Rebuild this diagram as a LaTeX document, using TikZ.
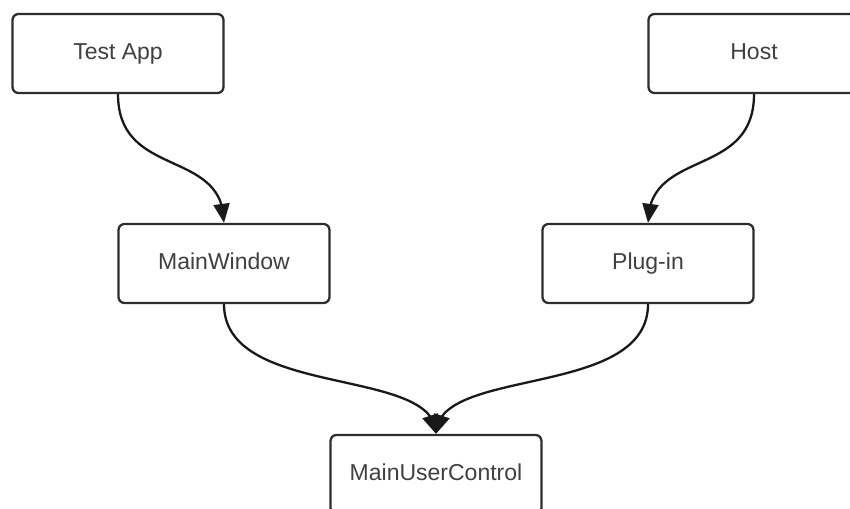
\documentclass[tikz,border=0pt]{standalone}
\usepackage{fontspec}
\setmainfont{Liberation Sans}
\usetikzlibrary{arrows.meta,bending}
\begin{document}
\begin{tikzpicture}[x=1pt,y=-1pt,
  block/.style={draw=black!82, line width=2.3pt, rounded corners=6pt,
    minimum width=211pt, minimum height=79pt, inner sep=0pt,
    text height=17pt, text depth=5pt,
    font=\fontsize{23}{27}\selectfont, text=black!75},
  link/.style={line width=2.3pt, draw=black!90,
    -{Triangle[width=16pt,length=19pt,flex]}}]
\clip (0,0) rectangle (850,508);
\fill[white] (0,0) rectangle (850,508);
% boxes
\node[block] (test) at (118,53.5)  {Test App};
\node[block] (host) at (754,53.5)  {Host};
\node[block] (mw)   at (224,263.5) {MainWindow};
\node[block] (plug) at (648,263.5) {Plug-in};
\node[block] (muc)  at (436,474.5) {MainUserControl};
% connectors
\draw[link] (test.south) .. controls +(0,85) and +(0,-75) .. (mw.north);
\draw[link] (host.south) .. controls +(0,85) and +(0,-75) .. (plug.north);
\draw[link] (mw.south)   .. controls +(0,95) and +(0,-68) .. (muc.north);
\draw[link] (plug.south) .. controls +(0,95) and +(0,-68) .. (muc.north);
\end{tikzpicture}
\end{document}
